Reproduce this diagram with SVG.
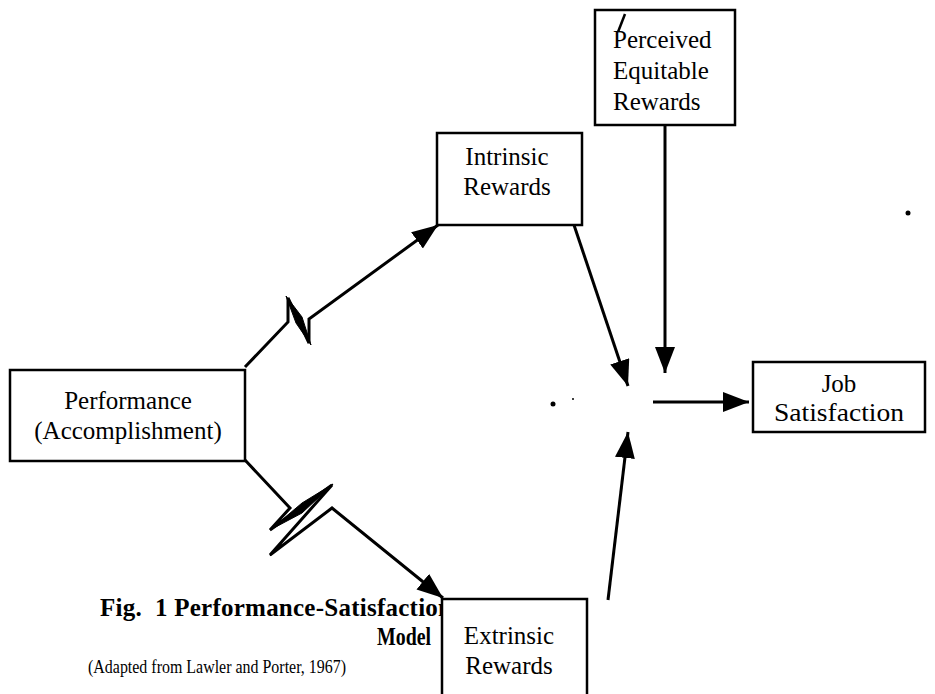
<svg xmlns="http://www.w3.org/2000/svg" width="935" height="694" viewBox="0 0 935 694">
<style>
.box{fill:#fff;stroke:#000;stroke-width:2.5}
.lbl{font-family:"Liberation Serif",serif;font-size:25px;fill:#000;text-anchor:middle}
.lft{font-family:"Liberation Serif",serif;font-size:25px;fill:#000;text-anchor:start}
.conn{fill:none;stroke:#000;stroke-width:3;stroke-linejoin:miter}
.bolt{fill:#000;stroke:#000;stroke-width:1}
.cap{font-family:"Liberation Serif",serif;fill:#000}
</style>
<defs>
<marker id="ah" markerUnits="userSpaceOnUse" markerWidth="28" markerHeight="22" refX="26" refY="10" orient="auto">
<path d="M0,0 L26,10 L0,20 Z" fill="#000"/>
</marker>
</defs>
<rect width="935" height="694" fill="#fff"/>
<g id="connectors">
<polyline class="conn" points="245,367 288,322 288,298 309,343 309,319 438,225" marker-end="url(#ah)"/>
<polygon class="bolt" points="286,296 302,317 311,345 296,323"/>
<polyline class="conn" points="245,460 290,508 270,530 332,485 270,555 332,508 443,598" marker-end="url(#ah)"/>
<polygon class="bolt" points="270,530 302,503 333,484 302,513"/>
<polygon class="bolt" points="333,484 304,516 270,556 298,524"/>
<line class="conn" x1="574" y1="225" x2="628" y2="386" marker-end="url(#ah)"/>
<line class="conn" x1="665" y1="125" x2="665" y2="373" marker-end="url(#ah)"/>
<line class="conn" x1="608" y1="600" x2="628" y2="432" marker-end="url(#ah)"/>
<line class="conn" x1="653" y1="402" x2="749" y2="402" marker-end="url(#ah)"/>
</g>
<g id="caption">
<text class="cap" x="100" y="616" font-size="25" font-weight="bold" textLength="352" lengthAdjust="spacing">Fig.&#160; 1 Performance-Satisfaction</text>
<text class="cap" x="377" y="645" font-size="25" font-weight="bold" textLength="54" lengthAdjust="spacingAndGlyphs">Model</text>
<text class="cap" x="88" y="673" font-size="18" textLength="258" lengthAdjust="spacingAndGlyphs">(Adapted from Lawler and Porter, 1967)</text>
</g>
<g id="performance">
<rect class="box" x="10" y="370" width="235" height="91"/>
<text class="lbl" x="128" y="409">Performance</text>
<text class="lbl" x="128" y="439">(Accomplishment)</text>
</g>
<g id="intrinsic">
<rect class="box" x="437" y="133" width="145" height="92"/>
<text class="lbl" x="507" y="165">Intrinsic</text>
<text class="lbl" x="507" y="195">Rewards</text>
</g>
<g id="perceived">
<rect class="box" x="595" y="10" width="140" height="115"/>
<text class="lft" x="613" y="48">Perceived</text>
<text class="lft" x="613" y="79">Equitable</text>
<text class="lft" x="613" y="110">Rewards</text>
<line x1="625" y1="14" x2="618" y2="32" stroke="#000" stroke-width="2.5"/>
</g>
<g id="job">
<rect class="box" x="753" y="362" width="172" height="70"/>
<text class="lbl" x="839" y="392">Job</text>
<text class="lbl" x="839" y="421" textLength="130" lengthAdjust="spacingAndGlyphs">Satisfaction</text>
</g>
<g id="extrinsic">
<rect class="box" x="442" y="599" width="145" height="110"/>
<text class="lbl" x="509" y="644">Extrinsic</text>
<text class="lbl" x="509" y="674">Rewards</text>
</g>
<circle cx="553" cy="404" r="2.5" fill="#000"/>
<circle cx="573" cy="399" r="1" fill="#000"/>
<circle cx="908" cy="213" r="2.5" fill="#000"/>
</svg>
